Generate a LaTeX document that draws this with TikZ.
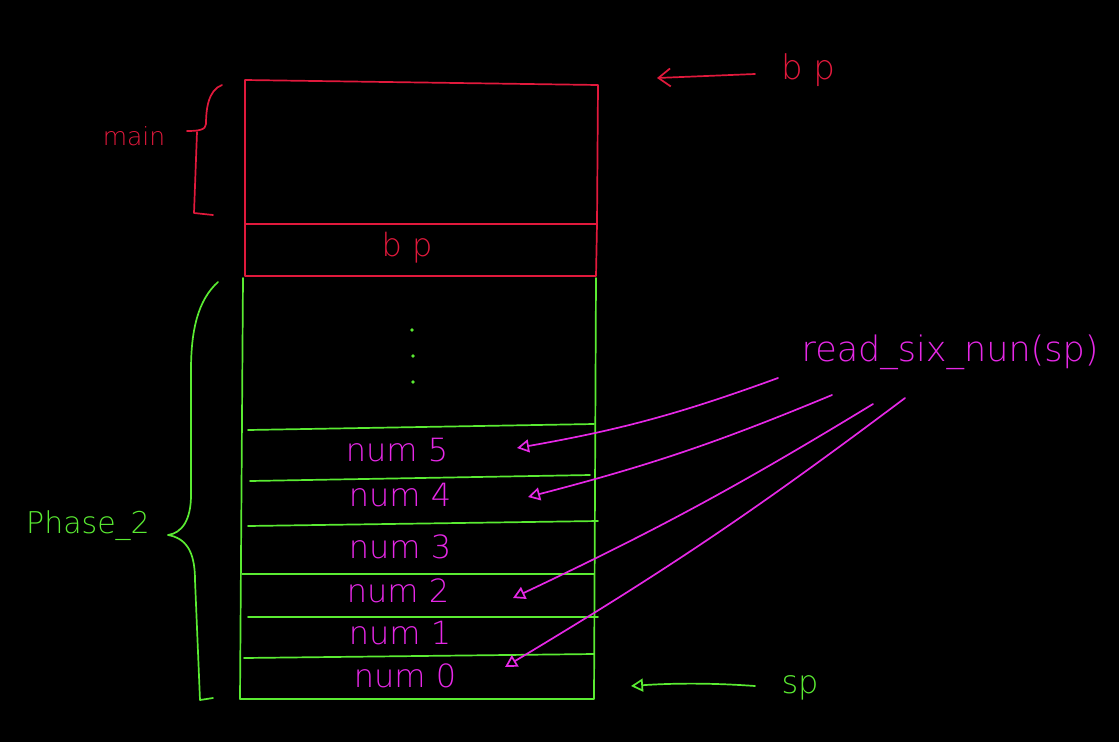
\documentclass[tikz,border=0pt]{standalone}
\usepackage{fontspec}
\setmainfont{DejaVu Sans ExtraLight}
\usetikzlibrary{arrows.meta}
\definecolor{myred}{RGB}{225,25,60}
\definecolor{mygreen}{RGB}{90,235,50}
\definecolor{mymag}{RGB}{230,40,230}
\begin{document}
\begin{tikzpicture}[x=1pt,y=-1pt,line width=1.7pt,line cap=round,line join=round,
  lbl/.style={inner sep=0pt,font=\fontsize{#1}{#1}\selectfont},
  redtxt/.style={lbl=#1,text=myred},
  greentxt/.style={lbl=#1,text=mygreen},
  magtxt/.style={lbl=#1,text=mymag},
  barb/.style={-{Straight Barb[length=12pt,width=18pt,line width=1.7pt]}},
  openarrow/.style={-{Triangle[open,length=12pt,width=13pt,line width=1.7pt]}}]
\fill[black] (0,0) rectangle (1119,742);
\useasboundingbox (0,0) rectangle (1119,742);

% red frame (main + bp)
\draw[myred] (245,80) -- (598,85) -- (597,224) -- (245,224) -- cycle;
\draw[myred] (245,224) -- (245,276) -- (596,276) -- (597,224);
\node[redtxt=32] (bpin) at (407,248) {b p};

% green frame
\draw[mygreen] (243,278) -- (240,699) -- (594,699) -- (596,278);
\draw[mygreen] (248,430) -- (594,424);
\draw[mygreen] (250,481) -- (590,475);
\draw[mygreen] (248,526) -- (598,521);
\draw[mygreen] (242,574) -- (594,574);
\draw[mygreen] (248,617) -- (598,617);
\draw[mygreen] (244,658) -- (594,654);

% dots
\fill[mygreen] (412,330) circle (1.8);
\fill[mygreen] (413,356) circle (1.8);
\fill[mygreen] (413,382) circle (1.8);

% cell labels
\node[magtxt=32] (n5) at (397,450) {num 5};
\node[magtxt=32] (n4) at (400,495) {num 4};
\node[magtxt=32] (n3) at (400,547) {num 3};
\node[magtxt=32] (n2) at (398,591) {num 2};
\node[magtxt=32] (n1) at (400,633) {num 1};
\node[magtxt=32] (n0) at (405,676) {num 0};

% main brace
\node[redtxt=25] (main) at (134,136) {main};
\draw[myred] (222,85) .. controls (208,90) and (206,110) .. (206,124)
  .. controls (206,130) and (198,131) .. (187,131);
\draw[myred] (197,132) -- (194,213) -- (213,215);

% phase_2 brace
\node[greentxt=30] (ph) at (88,526) {Phase\_2};
\draw[mygreen] (218,282) .. controls (198,300) and (191,330) .. (191,370)
  -- (191,495) .. controls (191,520) and (182,533) .. (168,535)
  .. controls (185,538) and (195,550) .. (195,580)
  -- (200,700) -- (213,698);

% bp pointer
\node[redtxt=34] (bp) at (808,70) {b p};
\coordinate (bps) at (755,74);
\coordinate (bpt) at (657,78);
\draw[myred,barb] (bps) -- (bpt);

% sp pointer
\node[greentxt=32] (sp) at (800,688) {sp};
\coordinate (sps) at (755,686);
\coordinate (spt) at (631,686);
\draw[mygreen,openarrow] (sps) .. controls (700,682) and (660,684) .. (spt);

% read_six_nun(sp)
\node[magtxt=35] (fn) at (950,352) {read\_six\_nun(sp)};
\coordinate (f1) at (778,378);
\coordinate (f2) at (832,395);
\coordinate (f3) at (873,404);
\coordinate (f4) at (905,398);
\coordinate (t5) at (517,448);
\coordinate (t4) at (528,497);
\coordinate (t2) at (513,598);
\coordinate (t0) at (505,667);
\draw[mymag,openarrow] (f1) to[bend left=5] (t5);
\draw[mymag,openarrow] (f2) to[bend left=4] (t4);
\draw[mymag,openarrow] (f3) to[bend left=3] (t2);
\draw[mymag,openarrow] (f4) to[bend left=3] (t0);
\end{tikzpicture}
\end{document}
